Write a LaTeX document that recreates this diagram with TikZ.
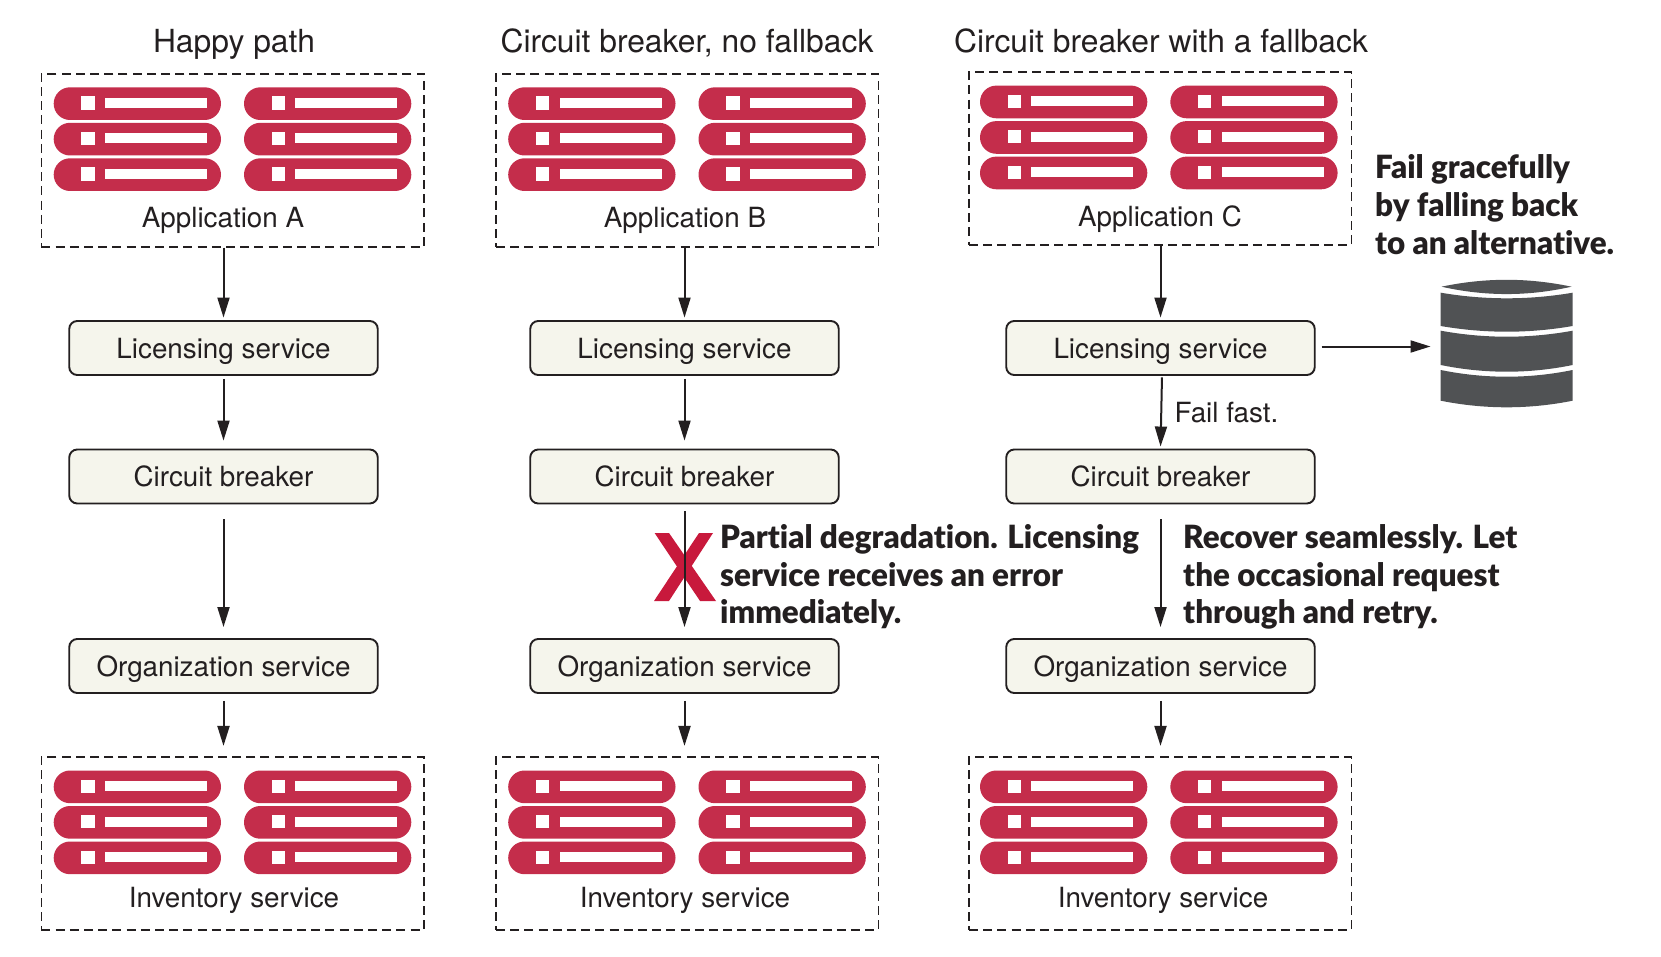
\documentclass[tikz,border=0pt]{standalone}
\usepackage{fontspec}
\setmainfont{TeX Gyre Heros}
\newfontfamily\annotfont[FakeStretch=0.98,Ligatures=NoCommon]{Lato Black}
\usetikzlibrary{arrows.meta}
\definecolor{pillred}{HTML}{C42D4B}
\definecolor{xred}{HTML}{C8193C}
\definecolor{dbgrey}{HTML}{505254}
\definecolor{boxfill}{HTML}{F5F5EC}
\definecolor{ink}{HTML}{231F20}
\tikzset{
  dashbox/.style={draw=ink,line width=1.9pt,dash pattern=on 9pt off 5.2pt,minimum width=382.5pt,minimum height=173pt,inner sep=0pt,anchor=north west},
  svcbox/.style={draw=ink,fill=boxfill,line width=1.9pt,rounded corners=8pt,minimum width=308.5pt,minimum height=54pt,inner sep=0pt,text height=20pt,text depth=0pt,font=\fontsize{27.8}{30}\selectfont,text=ink},
  lbl/.style={font=\fontsize{27.8}{30}\selectfont,text=ink,inner sep=0pt},
  ttl/.style={font=\fontsize{31.8}{34}\selectfont,text=ink,inner sep=0pt,anchor=base},
  note/.style={font=\annotfont\fontsize{32}{37.6}\selectfont,text=ink,inner sep=0pt,anchor=west,align=left},
  arr/.style={draw=ink,line width=2pt,-{Triangle[length=20pt,width=12pt]}},
  pill/.style={fill=pillred,rounded corners=16.3pt},
}
\newcommand{\onepill}[2]{%
  \fill[pill] (#1,#2) rectangle ++(167.3,32.7);
  \fill[white] (#1+27.6,#2+9) rectangle ++(13.4,13.4);
  \fill[white] (#1+51.3,#2+10.7) rectangle ++(102,10);
}
\newcommand{\srvgroup}[7]{% name, box x, box y, label, label x, label baseline, pill x
  \node[dashbox] (#1) at (#2,#3) {};
  \begin{scope}[shift={(#7,#3)}]
    \foreach \py in {14.6,50.1,85.6}{
      \onepill{0}{\py}
      \onepill{190.3}{\py}
    }
  \end{scope}
  \node[lbl,anchor=base] (#1l) at (#5,#6) {#4};
}
\newcommand{\dbseg}[4]{% top end y, top centre y, bottom end y, bottom centre y
  \fill[dbgrey] (1440.7,#1) .. controls (1484.7,#2+#2/3-#1/3) and (1528.7,#2+#2/3-#1/3) .. (1572.7,#1)
    -- (1572.7,#3) .. controls (1528.7,#4+#4/3-#3/3) and (1484.7,#4+#4/3-#3/3) .. (1440.7,#3) -- cycle;
}
\begin{document}
\begin{tikzpicture}[x=1pt,y=-1pt]
\useasboundingbox (0,0) rectangle (1661,957);
% titles
\node[ttl] (t1) at (234,52.7) {Happy path};
\node[ttl] (t2) at (687,52.7) {Circuit breaker, no fallback};
\node[ttl] (t3) at (1161,52.7) {Circuit breaker with a fallback};
% groups
\srvgroup{appa}{40.5}{72.7}{Application A}{223}{227.4}{53.7}
\srvgroup{appb}{495}{72.7}{Application B}{685}{227.4}{508.2}
\srvgroup{appc}{968}{71}{Application C}{1160}{226.7}{980}
\srvgroup{inva}{40.5}{755.9}{Inventory service}{234}{907.2}{53.7}
\srvgroup{invb}{495}{755.9}{Inventory service}{685}{907.2}{508.2}
\srvgroup{invc}{968}{755.9}{Inventory service}{1163}{907.2}{980}
% services
\foreach \n/\cx in {a/223.5,b/684.5,c/1160.5}{
  \node[svcbox] (lic\n) at (\cx,348) {Licensing service};
  \node[svcbox] (cb\n) at (\cx,476.5) {Circuit breaker};
  \node[svcbox] (org\n) at (\cx,666) {Organization service};
}
% big X
\fill[xred] (654.6,533) -- (669,533) -- (716,601) -- (700,601) -- cycle;
\fill[xred] (699,533) -- (713,533) -- (669,601) -- (654,601) -- cycle;
% connectors
\foreach \n in {a,b,c}{
  \draw[arr,shorten >=2.5pt] (lic\n.north |- app\n.south) -- (lic\n.north);
  \draw[arr,shorten <=7pt,shorten >=10pt] (org\n.south) -- (org\n.south |- inv\n.north);
}
\draw[arr,shorten <=3pt,shorten >=8pt] (lica.south) -- (cba.north);
\draw[arr,shorten <=3pt,shorten >=8pt] (licb.south) -- (cbb.north);
\draw[arr,shorten <=1.5pt,shorten >=2pt] ([xshift=1.5pt]licc.south) -- (cbc.north);
\draw[arr,shorten <=15pt,shorten >=11pt] (cba.south) -- (orga.north);
\draw[arr,shorten <=7pt,shorten >=11pt] (cbb.south) -- (orgb.north);
\draw[arr,shorten <=15pt,shorten >=11pt] (cbc.south) -- (orgc.north);
% database
\node[inner sep=0pt,minimum width=132pt,minimum height=127pt] (db) at (1506.7,343.5) {};
\fill[dbgrey] (1441.5,286.7) .. controls (1485,277.5) and (1528,277.5) .. (1571.5,286.7)
  .. controls (1528,296.5) and (1485,296.5) .. (1441.5,286.7) -- cycle;
\dbseg{292.7}{298.3}{326}{331.7}
\dbseg{330.7}{336.7}{365}{371.7}
\dbseg{370}{376.7}{400.7}{407.3}
\draw[arr,shorten <=6pt,shorten >=10pt] ([yshift=1.5pt]licc.east) -- ([yshift=1.5pt]licc.east -| db.west);
% notes
\node[note] (n1) at (1375,204.6) {Fail gracefully\\by falling back\\to an alternative.};
\node[note] (n2) at (720,577) {Partial degradation. Licensing\\service receives an error\\immediately.};
\node[note] (n3) at (1183,577) {Recover seamlessly. Let\\the occasional request\\through and retry.};
\node[lbl,anchor=west] (ff) at (1174.5,413) {Fail fast.};
\end{tikzpicture}
\end{document}
